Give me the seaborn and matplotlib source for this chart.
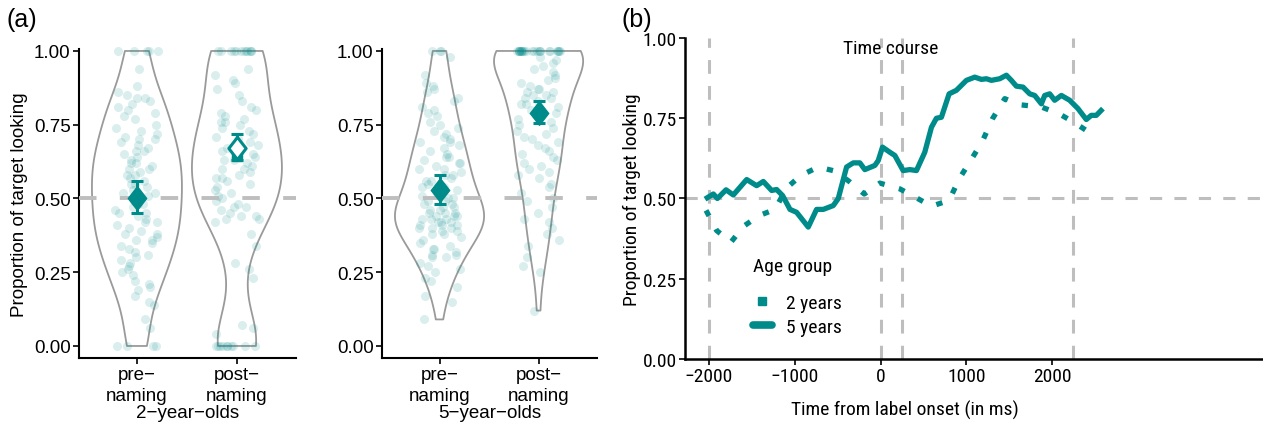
import matplotlib
matplotlib.use("Agg")
import matplotlib.pyplot as plt
from matplotlib import font_manager
from matplotlib.lines import Line2D
from matplotlib.path import Path
import numpy as np
import pandas as pd
import seaborn as sns

# ---- data: individual proportions ----
pre_2 = ([1.0] * 5 + [0.94, 0.88, 0.86, 0.85, 0.84, 0.84, 0.83, 0.82, 0.81, 0.80,
         0.79, 0.78, 0.77, 0.75, 0.74, 0.73, 0.72, 0.71, 0.70, 0.70, 0.69,
         0.68, 0.67, 0.66, 0.66, 0.65, 0.64, 0.63, 0.62, 0.62, 0.61, 0.60, 0.60, 0.59,
         0.58, 0.58, 0.57, 0.56, 0.55, 0.55, 0.54, 0.53, 0.52, 0.52, 0.51, 0.50, 0.49,
         0.48, 0.48, 0.47, 0.46, 0.45, 0.45, 0.44, 0.43, 0.42, 0.42, 0.41, 0.40, 0.39,
         0.38, 0.38, 0.37, 0.36, 0.36, 0.35, 0.34, 0.33, 0.32, 0.31, 0.30,
         0.29, 0.28, 0.27, 0.26, 0.25, 0.24, 0.22, 0.21, 0.20, 0.19,
         0.17, 0.15, 0.14, 0.09, 0.06] + [0.0] * 4)
post_2 = ([1.0] * 12 + [0.94, 0.92, 0.90, 0.89, 0.87, 0.85, 0.83, 0.81, 0.80, 0.79,
          0.78, 0.77, 0.76, 0.76, 0.75, 0.74, 0.73, 0.72, 0.71, 0.70, 0.69, 0.68,
          0.67, 0.66, 0.65, 0.64, 0.63, 0.63, 0.62, 0.61, 0.60, 0.60, 0.59, 0.58,
          0.57, 0.57, 0.56, 0.55, 0.54, 0.53, 0.52, 0.51, 0.50, 0.49, 0.48, 0.47,
          0.47, 0.46, 0.45, 0.44, 0.44, 0.43, 0.43, 0.42, 0.38, 0.34, 0.28, 0.26,
          0.23, 0.07, 0.06, 0.04] + [0.0] * 10)
pre_5 = ([1.0] * 3 + [0.98, 0.92, 0.89, 0.88, 0.87, 0.86, 0.84, 0.83, 0.81, 0.80,
         0.79, 0.78, 0.76, 0.75, 0.74, 0.73, 0.72, 0.71, 0.70, 0.69, 0.69, 0.68,
         0.67, 0.66, 0.65, 0.64, 0.64, 0.63, 0.62, 0.62, 0.61, 0.60, 0.60, 0.59,
         0.58, 0.58, 0.57, 0.56, 0.56, 0.55, 0.54, 0.54, 0.53, 0.53, 0.52, 0.51,
         0.50, 0.50, 0.49, 0.49, 0.48, 0.48, 0.47, 0.47, 0.46, 0.46, 0.45, 0.45,
         0.45, 0.44, 0.44, 0.44, 0.43, 0.43, 0.43, 0.42, 0.42, 0.42, 0.41, 0.41,
         0.41, 0.40, 0.40, 0.40, 0.39, 0.39, 0.38, 0.38, 0.37, 0.36, 0.35, 0.34,
         0.33, 0.33, 0.32, 0.31, 0.31, 0.30, 0.30, 0.28, 0.27, 0.26, 0.25, 0.23,
         0.22, 0.20, 0.17, 0.15, 0.09])
post_5 = ([1.0] * 25 + [0.98, 0.97, 0.96, 0.95, 0.94, 0.93, 0.92, 0.91, 0.90, 0.89,
          0.88, 0.87, 0.87, 0.86, 0.86, 0.85, 0.85, 0.84, 0.84, 0.83, 0.82, 0.82,
          0.81, 0.80, 0.79, 0.78, 0.77, 0.76, 0.75, 0.74, 0.73, 0.72, 0.71, 0.70,
          0.69, 0.68, 0.67, 0.66, 0.65, 0.64, 0.63, 0.62, 0.61, 0.60, 0.59, 0.58,
          0.57, 0.55, 0.54, 0.52, 0.50, 0.49, 0.47, 0.45, 0.43, 0.42, 0.40, 0.38,
          0.36, 0.34, 0.30, 0.27, 0.25, 0.12])

phases = ["pre\u2212\nnaming", "post\u2212\nnaming"]

# group means with 95% CI
mean_2 = [0.50, 0.67]
lo_2 = [0.45, 0.63]
hi_2 = [0.56, 0.72]
mean_5 = [0.53, 0.79]
lo_5 = [0.48, 0.755]
hi_5 = [0.58, 0.83]

# time course (ms from label onset, proportion target looking)
time_5 = [-2047, -1950, -1903, -1802, -1717, -1561, -1445, -1367, -1270, -1212,
          -1142, -1056, -979, -843, -746, -668, -551, -493, -396, -318, -241,
          -183, -66, -27, 23, 109, 167, 264, 342, 419, 516, 594, 652, 710, 800,
          885, 1002, 1099, 1177, 1235, 1293, 1390, 1468, 1526, 1584, 1662, 1740,
          1798, 1876, 1915, 1973, 2031, 2109, 2206, 2303, 2400, 2458, 2517, 2594]
prop_5 = [0.498, 0.514, 0.500, 0.527, 0.511, 0.559, 0.540, 0.553, 0.525, 0.528,
          0.509, 0.466, 0.457, 0.411, 0.466, 0.466, 0.478, 0.500, 0.598, 0.611,
          0.611, 0.590, 0.603, 0.618, 0.660, 0.644, 0.634, 0.587, 0.590, 0.587,
          0.644, 0.722, 0.750, 0.753, 0.826, 0.837, 0.868, 0.878, 0.871, 0.873,
          0.868, 0.873, 0.884, 0.868, 0.850, 0.847, 0.826, 0.821, 0.795, 0.821,
          0.826, 0.806, 0.821, 0.806, 0.780, 0.746, 0.759, 0.759, 0.780]
time_2 = [-2035, -1911, -1744, -1600, -1414, -1231, -1095, -928, -726, -524,
          -365, -190, -8, 225, 419, 594, 800, 917, 1060, 1188, 1305, 1449, 1623,
          1876, 2082, 2264, 2439]
prop_2 = [0.463, 0.400, 0.364, 0.413, 0.447, 0.466, 0.533, 0.572, 0.598, 0.585,
          0.553, 0.514, 0.548, 0.530, 0.502, 0.476, 0.494, 0.561, 0.622, 0.678,
          0.748, 0.811, 0.792, 0.785, 0.764, 0.736, 0.705]
ref_times = [-2000, 0, 250, 2250]

teal = "#008B8B"
ref_grey = "#BEBEBE"

sns.set_style("white")
plt.rcParams["font.family"] = ["Liberation Sans", "DejaVu Sans"]
plt.rcParams["text.color"] = "black"
plt.rcParams["axes.labelcolor"] = "black"
names = {f.name for f in font_manager.fontManager.ttflist}
narrow = "Liberation Sans"
for cand in ["Liberation Sans Narrow", "Roboto Condensed", "Nimbus Sans Narrow",
             "Arial Narrow", "Open Sans Condensed"]:
    if cand in names:
        narrow = cand
        break
fs = 13.5
fsb = 14

fig = plt.figure(figsize=(12.63, 4.27), dpi=100)
ax1 = fig.add_axes([0.0625, 0.1593, 0.1718, 0.7237])
ax2 = fig.add_axes([0.3025, 0.1593, 0.1702, 0.7237])
ax3 = fig.add_axes([0.5424, 0.1569, 0.4576, 0.7518])

# tall diamond marker
diamond = Path([(0, 1), (0.78, 0), (0, -1), (-0.78, 0), (0, 1)],
               [Path.MOVETO, Path.LINETO, Path.LINETO, Path.LINETO, Path.CLOSEPOLY])

np.random.seed(7)


def violin_panel(ax, pre, post, means, lo, hi, xlabel, hollow_post=False):
    df = pd.DataFrame({
        "phase": [phases[0]] * len(pre) + [phases[1]] * len(post),
        "prop": pre + post,
    })
    sns.violinplot(data=df, x="phase", y="prop", order=phases, ax=ax, fill=False,
                   color="#9A9A9A", linewidth=1.3, inner=None, cut=0,
                   density_norm="width", width=0.9, bw_adjust=0.85)
    sns.stripplot(data=df, x="phase", y="prop", order=phases, ax=ax, jitter=0.22,
                  size=6.5, color=teal, alpha=0.14, linewidth=0, zorder=2)
    ax.axhline(0.5, color=ref_grey, lw=2.8, dashes=(4.5, 6), zorder=3)
    x = np.arange(len(means))
    yerr = [np.array(means) - np.array(lo), np.array(hi) - np.array(means)]
    ax.errorbar(x, means, yerr=yerr, fmt="none", ecolor=teal, elinewidth=2.2,
                capsize=4, capthick=2.2, zorder=4)
    for i, m in enumerate(means):
        if hollow_post and i == 1:
            ax.plot(i, lo[i] + 0.015, marker="s", markersize=7, color=teal, zorder=5)
            ax.plot(i, m, marker=diamond, markersize=16, markerfacecolor="white",
                    markeredgecolor=teal, markeredgewidth=2.2, zorder=6)
        else:
            ax.plot(i, m, marker=diamond, markersize=17, color=teal, zorder=5)
    ax.set_xlim(-0.58, 1.59)
    ax.set_ylim(-0.0407, 1.0068)
    ax.set_yticks([0, 0.25, 0.5, 0.75, 1.0])
    ax.set_yticklabels(["0.00", "0.25", "0.50", "0.75", "1.00"])
    ax.set_xticks([0, 1])
    ax.set_xticklabels(phases, linespacing=1.3)
    ax.set_xlabel(xlabel, fontsize=fs, labelpad=0)
    ax.set_ylabel("")
    ax.tick_params(axis="both", labelsize=fs, length=4, width=1.2, color="black",
                   labelcolor="black", left=True, bottom=True, pad=2)
    for s in ["top", "right"]:
        ax.spines[s].set_visible(False)
    for s in ["left", "bottom"]:
        ax.spines[s].set_linewidth(1.5)
        ax.spines[s].set_color("black")
    for coll in ax.collections:
        coll.set_clip_on(False)


violin_panel(ax1, pre_2, post_2, mean_2, lo_2, hi_2, "2\u2212year\u2212olds", hollow_post=True)
violin_panel(ax2, pre_5, post_5, mean_5, lo_5, hi_5, "5\u2212year\u2212olds")
ax1.set_ylabel("Proportion of target looking", fontsize=fs, labelpad=4)

# ---- panel (b): time course ----
ax3.axhline(0.5, color=ref_grey, lw=2.2, dashes=(4, 4), zorder=1)
for t in ref_times:
    ax3.axvline(t, color=ref_grey, lw=2.2, dashes=(4.5, 4), zorder=1)
sns.lineplot(x=time_5, y=prop_5, ax=ax3, color=teal, lw=3.8, zorder=3,
             solid_joinstyle="round", solid_capstyle="butt")
sns.lineplot(x=time_2, y=prop_2, ax=ax3, color=teal, lw=3.8, zorder=3,
             linestyle=(0, (1.2, 2.8)), dash_capstyle="butt")
ax3.set_xlim(-2280, 4461)
ax3.set_ylim(0, 1)
ax3.set_xticks([-2000, -1000, 0, 1000, 2000])
ax3.set_xticklabels(["\u22122000", "\u22121000", "0", "1000", "2000"], family=narrow)
ax3.set_yticks([0, 0.25, 0.5, 0.75, 1.0])
ax3.set_yticklabels(["0.00", "0.25", "0.50", "0.75", "1.00"], family=narrow)
ax3.set_xlabel("Time from label onset (in ms)", fontsize=fsb, family=narrow)
ax3.xaxis.set_label_coords(0.381, -0.128)
ax3.set_ylabel("Proportion of target looking", fontsize=fsb, family=narrow, labelpad=1)
ax3.tick_params(axis="both", labelsize=fsb, length=4, width=1.2, color="black",
                labelcolor="black", left=True, bottom=True, pad=2)
for s in ["top", "right"]:
    ax3.spines[s].set_visible(False)
for s in ["left", "bottom"]:
    ax3.spines[s].set_linewidth(1.8)
    ax3.spines[s].set_color("black")
ax3.text(0.355, 0.969, "Time course", transform=ax3.transAxes, ha="center", va="center",
         fontsize=fsb, family=narrow)

# legend: title drawn separately to get the wider gap before the entries
ax3.text(0.118, 0.29, "Age group", transform=ax3.transAxes, ha="left", va="center",
         fontsize=fsb, family=narrow)
handles = [Line2D([0], [0], color=teal, lw=0, marker="s", markersize=5.5),
           Line2D([0], [0], color=teal, lw=5.5)]
leg = ax3.legend(handles, ["2 years", "5 years"], loc="upper left",
                 bbox_to_anchor=(0.1, 0.232), frameon=False, handlelength=1.0,
                 handletextpad=0.7, labelspacing=0.3, borderpad=0,
                 prop={"family": narrow, "size": fsb})

fig.text(0.0055, 0.953, "(a)", fontsize=18, ha="left", va="center")
fig.text(0.4917, 0.953, "(b)", fontsize=18, ha="left", va="center")

fig.savefig("out.png", dpi=100)
